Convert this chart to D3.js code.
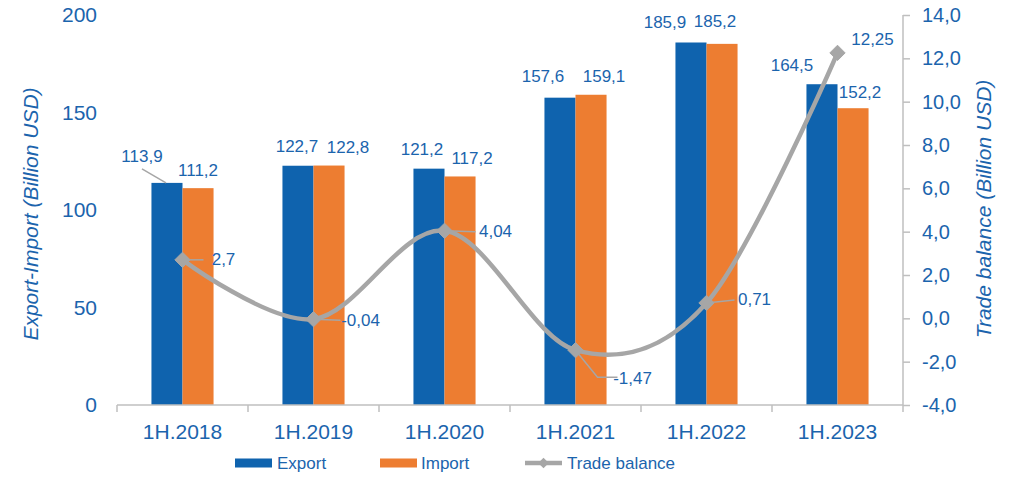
<!DOCTYPE html>
<html>
<head>
<meta charset="utf-8">
<script src="https://cdn.jsdelivr.net/npm/d3@7"></script>
<style>
  html, body { margin: 0; padding: 0; background: #fff; }
  svg { display: block; font-family: "Liberation Sans", Arial, sans-serif; }
</style>
</head>
<body>
<svg id="chart" width="1015" height="477"></svg>
<script>
// Half-year trade figures
const periods = ["1H.2018", "1H.2019", "1H.2020", "1H.2021", "1H.2022", "1H.2023"];
const exportValues = [113.9, 122.7, 121.2, 157.6, 185.9, 164.5];
const importValues = [111.2, 122.8, 117.2, 159.1, 185.2, 152.2];
const balanceValues = [2.7, -0.04, 4.04, -1.47, 0.71, 12.25];
const leftTicks = [0, 50, 100, 150, 200];
const rightTicks = [-4, -2, 0, 2, 4, 6, 8, 10, 12, 14];

// Label nudges (pixels) so the value labels do not collide
const exportLabelShift = [[-25, -26], [-1, -19], [-7, -19], [-17, -21], [-26, -20], [-30, -19]];
const importLabelShift = [[0, -18], [19, -18], [12, -18], [13, -18], [-7, -22], [7, -16]];
const balanceLabelShift = [[41, 0], [47, 1], [51, 1], [57, 28], [48, -3], [35, -13]];

const fmt = v => String(v).replace(".", ",");
const fmt1 = v => v.toFixed(1).replace(".", ",");

const BLUE = "#0F63AE";
const ORANGE = "#ED7D31";
const TEXT = "#1B64AD";
const GREY_LINE = "#A6A6A6";
const AXIS = "#BFBFBF";

const svg = d3.select("#chart");
const plot = { left: 117, right: 903, top: 15, bottom: 405 };

const x = d3.scaleBand().domain(periods).range([plot.left, plot.right]).padding(0);
const yL = d3.scaleLinear().domain([0, 200]).range([plot.bottom, plot.top]);
const yR = d3.scaleLinear().domain([-4, 14]).range([plot.bottom, plot.top]);
const barW = x.bandwidth() * 0.237;
const cx = p => x(p) + x.bandwidth() / 2;

// Bars
const g = svg.append("g");
g.selectAll("rect.exp").data(periods).join("rect")
  .attr("x", d => cx(d) - barW).attr("width", barW)
  .attr("y", (d, i) => yL(exportValues[i]))
  .attr("height", (d, i) => yL(0) - yL(exportValues[i]))
  .attr("fill", BLUE);
g.selectAll("rect.imp").data(periods).join("rect")
  .attr("x", d => cx(d)).attr("width", barW)
  .attr("y", (d, i) => yL(importValues[i]))
  .attr("height", (d, i) => yL(0) - yL(importValues[i]))
  .attr("fill", ORANGE);

// Category axis
const xAxis = svg.append("g").attr("transform", `translate(0,${plot.bottom})`);
xAxis.append("line").attr("x1", plot.left).attr("x2", plot.right)
  .attr("stroke", AXIS).attr("stroke-width", 1.5);
const boundaries = periods.map(p => x(p)).concat([plot.right]);
xAxis.selectAll("line.tick").data(boundaries).join("line")
  .attr("x1", d => d).attr("x2", d => d).attr("y1", 0).attr("y2", 7)
  .attr("stroke", AXIS).attr("stroke-width", 1.5);
xAxis.selectAll("text").data(periods).join("text")
  .attr("x", d => cx(d)).attr("y", 26)
  .attr("text-anchor", "middle").attr("dominant-baseline", "central")
  .attr("font-size", 21).attr("fill", TEXT).text(d => d);

// Left axis labels (no axis line)
const leftAxis = svg.append("g").attr("transform", `translate(${plot.left},0)`)
  .call(d3.axisLeft(yL).tickValues(leftTicks).tickSize(0).tickPadding(20));
leftAxis.select(".domain").remove();
leftAxis.selectAll("text").attr("font-size", 21).attr("fill", TEXT)
  .attr("font-family", "Liberation Sans, Arial, sans-serif");

// Right axis
const rightAxis = svg.append("g").attr("transform", `translate(${plot.right},0)`)
  .call(d3.axisRight(yR).tickValues(rightTicks).tickSize(7).tickPadding(12).tickFormat(fmt1));
rightAxis.select(".domain").attr("stroke", AXIS).attr("stroke-width", 1.5)
  .attr("d", `M0,${plot.top}V${plot.bottom}`);
rightAxis.selectAll(".tick line").attr("stroke", AXIS).attr("stroke-width", 1.5);
rightAxis.selectAll("text").attr("font-size", 20).attr("fill", TEXT)
  .attr("font-family", "Liberation Sans, Arial, sans-serif");

// Axis titles
svg.append("text")
  .attr("transform", `translate(30,${(plot.top + plot.bottom) / 2 + 4}) rotate(-90)`)
  .attr("text-anchor", "middle").attr("dominant-baseline", "central")
  .attr("font-size", 21).attr("font-style", "italic").attr("fill", TEXT)
  .text("Export-Import (Billion USD)");
svg.append("text")
  .attr("transform", `translate(983,${(plot.top + plot.bottom) / 2 - 1}) rotate(-90)`)
  .attr("text-anchor", "middle").attr("dominant-baseline", "central")
  .attr("font-size", 21).attr("font-style", "italic").attr("fill", TEXT)
  .text("Trade balance (Billion USD)");

// Trade balance line (smoothed)
const pts = periods.map((p, i) => [cx(p), yR(balanceValues[i])]);
svg.append("path").attr("d", d3.line().curve(d3.curveCardinal.tension(0))(pts))
  .attr("fill", "none").attr("stroke", GREY_LINE).attr("stroke-width", 4.5)
  .attr("stroke-linecap", "round");

const diamond = d3.symbol().type(d3.symbolDiamond2).size(150);

// Leader lines for labels placed away from their marks
const leaders = svg.append("g").attr("stroke", GREY_LINE).attr("stroke-width", 1.5).attr("fill", "none");
{
  const bx = cx(periods[0]) - barW / 2, by = yL(exportValues[0]);
  leaders.append("path").attr("d", `M${bx - 1},${by}L${bx - 25},${by - 14}`);
}
pts.forEach((pt, i) => {
  if (i === 5) return;
  const [dx, dy] = balanceLabelShift[i];
  const tx = pt[0] + dx - 20;
  if (dy > 10) {
    leaders.append("path").attr("d", `M${pt[0]},${pt[1]}L${pt[0] + 22},${pt[1] + dy - 1}L${tx + 5},${pt[1] + dy - 1}`);
  } else {
    leaders.append("path").attr("d", `M${pt[0]},${pt[1]}L${tx},${pt[1] + dy}`);
  }
});

svg.append("g").selectAll("path").data(pts).join("path")
  .attr("transform", d => `translate(${d[0]},${d[1]})`)
  .attr("d", diamond).attr("fill", GREY_LINE).attr("stroke", GREY_LINE).attr("stroke-width", 1);

// Value labels
const labels = svg.append("g").attr("font-size", 17).attr("fill", TEXT)
  .attr("text-anchor", "middle").attr("dominant-baseline", "central");
periods.forEach((p, i) => {
  labels.append("text")
    .attr("x", cx(p) - barW / 2 + exportLabelShift[i][0])
    .attr("y", yL(exportValues[i]) + exportLabelShift[i][1])
    .text(fmt1(exportValues[i]));
  labels.append("text")
    .attr("x", cx(p) + barW / 2 + importLabelShift[i][0])
    .attr("y", yL(importValues[i]) + importLabelShift[i][1])
    .text(fmt1(importValues[i]));
  labels.append("text")
    .attr("x", pts[i][0] + balanceLabelShift[i][0])
    .attr("y", pts[i][1] + balanceLabelShift[i][1])
    .text(fmt(balanceValues[i]));
});

// Legend
const legend = svg.append("g").attr("font-size", 17).attr("fill", TEXT);
const legY = 463;
legend.append("rect").attr("x", 235).attr("y", legY - 4.5).attr("width", 37).attr("height", 9).attr("fill", BLUE);
legend.append("text").attr("x", 277).attr("y", legY).attr("dominant-baseline", "central").text("Export");
legend.append("rect").attr("x", 380).attr("y", legY - 4.5).attr("width", 37).attr("height", 9).attr("fill", ORANGE);
legend.append("text").attr("x", 421).attr("y", legY).attr("dominant-baseline", "central").text("Import");
legend.append("line").attr("x1", 525).attr("x2", 562).attr("y1", legY).attr("y2", legY)
  .attr("stroke", GREY_LINE).attr("stroke-width", 4.5);
legend.append("path").attr("transform", `translate(543.5,${legY})`)
  .attr("d", d3.symbol().type(d3.symbolDiamond2).size(70)).attr("fill", GREY_LINE);
legend.append("text").attr("x", 567).attr("y", legY).attr("dominant-baseline", "central").text("Trade balance");
</script>
</body>
</html>
